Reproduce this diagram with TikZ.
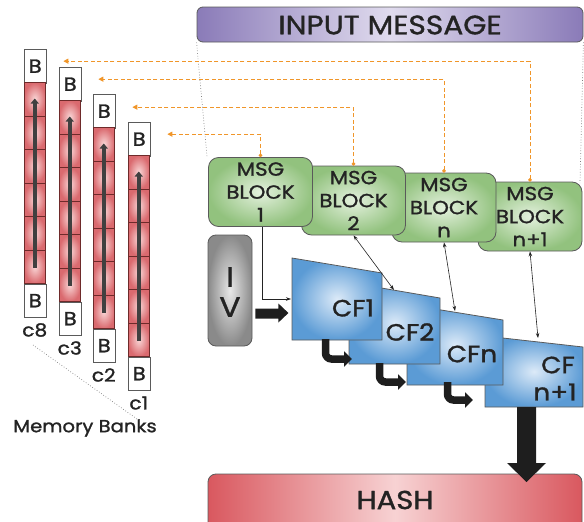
\documentclass[tikz,border=0pt]{standalone}
\usepackage{fontspec}
\setmainfont{Poppins}[FakeBold=1.3,FakeStretch=1.12]
\usetikzlibrary{arrows.meta}
\definecolor{txt}{HTML}{232323}
\definecolor{edgegray}{HTML}{5A5A5A}
\definecolor{orng}{HTML}{F0962A}
\definecolor{purpEdge}{HTML}{8A7BB8}
\definecolor{purpMid}{HTML}{E0DBEE}
\definecolor{greenIn}{HTML}{E4F1DE}
\definecolor{greenOut}{HTML}{92C27E}
\definecolor{blueIn}{HTML}{DCEAF8}
\definecolor{blueOut}{HTML}{5B9BD5}
\definecolor{grayIn}{HTML}{E8E8E8}
\definecolor{grayOut}{HTML}{8A8A8A}
\definecolor{redEdge}{HTML}{D9585F}
\definecolor{redMid}{HTML}{F7D2D3}
\definecolor{cellIn}{HTML}{F9D6D6}
\definecolor{cellOut}{HTML}{DA6A6F}
\definecolor{cellLine}{HTML}{6E2A2A}
\definecolor{arrowDark}{HTML}{1E1E1E}
\tikzset{
  msgblock/.style={draw=edgegray, line width=0.8pt, rounded corners=10pt,
    inner color=greenIn, outer color=greenOut, minimum width=104pt, minimum height=69pt,
    align=center, text=txt, font=\fontsize{19}{23}\selectfont, inner sep=0pt},
  cfshape/.style={draw=edgegray, line width=0.8pt, inner color=blueIn, outer color=blueOut},
  cftext/.style={text=txt, font=\fontsize{23.5}{27}\selectfont, inner sep=0pt},
  bbox/.style={draw=edgegray, line width=0.8pt, fill=white, minimum width=21.5pt,
    minimum height=33.5pt, inner sep=0pt, text=txt, font=\fontsize{19}{20}\selectfont},
  memcell/.style={draw=cellLine, line width=0.7pt, inner color=cellIn, outer color=cellOut},
  memarrow/.style={draw=arrowDark!85, line width=4.5pt, -{Triangle[length=5pt,width=8pt]}},
  lab/.style={text=txt, font=\fontsize{18}{20}\selectfont, inner sep=0pt},
  orangeline/.style={draw=orng, line width=1pt, dash pattern=on 4pt off 2.5pt,
    {Circle[length=3.5pt]}-{Triangle[length=5pt,width=5pt]}},
  thinarrow/.style={draw=txt, line width=0.6pt, {Stealth[length=5pt,width=3.5pt]}-{Stealth[length=5pt,width=3.5pt]}},
  dotline/.style={draw=gray, line width=0.7pt, dotted},
  bentarrow/.style={draw=arrowDark, line width=7.5pt, rounded corners=6pt,
    -{Triangle[length=8pt,width=15pt]}},
  bigfill/.style={fill=arrowDark}
}
\newcommand\memcol[4]{%
  \node[bbox, anchor=north west] (#1t) at (#2,#3) {B};
  \foreach \k in {0,...,5} {
    \path[memcell] (#2,#3+33.5+\k*33.5) rectangle ++(21.5,33.5);
  }
  \node[bbox, anchor=north west] (#1b) at (#2,#3+234.5) {B};
  \node[lab] (#1l) at (#2+10.75,#3+281) {#4};
  \draw[memarrow] (#2+10.75,#3+234.5-16) -- (#2+10.75,#3+33.5+16);
}
\begin{document}
\begin{tikzpicture}[x=1pt,y=-1pt]
\useasboundingbox (0,0) rectangle (584,522);
\clip (0,0) rectangle (584,522);

% Input message
\node[draw=edgegray, line width=0.8pt, rounded corners=6pt, left color=purpEdge, right color=purpEdge,
  middle color=purpMid, minimum width=386pt, minimum height=35pt, inner sep=0pt] (inmsg) at (390,24.5) {};
\node[text=txt, font=\fontsize{26.5}{30}\selectfont, inner sep=0pt] (inmsgtxt) at (390,25) {INPUT MESSAGE};

% dotted guide lines
\coordinate (dl1) at (207,157);
\coordinate (dr1) at (580,183);
\draw[dotline] (inmsg.south west) -- (dl1);
\draw[dotline] (inmsg.south east) -- (dr1);

% memory banks
\memcol{ceight}{24}{49}{c8}
\memcol{cthree}{59}{67}{c3}
\memcol{ctwo}{93}{94}{c2}
\memcol{cone}{128}{122}{c1}
\node[lab, font=\fontsize{17.5}{20}\selectfont] (mb) at (85,428) {Memory Banks};
\coordinate (mbl) at (33,345);
\coordinate (mbr) at (137,419);
\draw[dotline] (mbl) -- (mbr);

% MSG blocks (later ones below)
\node[msgblock] (m4) at (530,216.5) {MSG\\BLOCK\\n+1};
\node[msgblock] (m3) at (444,207.5) {MSG\\BLOCK\\n};
\node[msgblock] (m2) at (353.5,200.5) {MSG\\BLOCK\\2};
\node[msgblock] (m1) at (260.5,192) {MSG\\BLOCK\\1};

% orange connectors
\draw[orangeline] (m1.north) |- ([xshift=17pt,yshift=5pt]conet.east);
\draw[orangeline] (m2.north) |- ([xshift=17pt,yshift=4pt]ctwot.east);
\draw[orangeline] (m3.north) |- ([xshift=17pt,yshift=5pt]cthreet.east);
\draw[orangeline] (m4.north) |- ([xshift=17pt,yshift=5pt]ceightt.east);

% IV
\node[draw=edgegray, line width=0.8pt, rounded corners=8pt, inner color=grayIn, outer color=grayOut,
  minimum width=44pt, minimum height=111pt, inner sep=0pt] (iv) at (230,290.5) {};
\node[text=txt, font=\fontsize{28}{30}\selectfont, inner sep=0pt] (ivI) at (230,277) {I};
\node[text=txt, font=\fontsize{28}{30}\selectfont, inner sep=0pt] (ivV) at (230,307) {V};

% CF shapes (later ones below)
\path[cfshape] (485,336) -- (583,347) -- (583,407) -- (485,407) -- cycle;
\path[cfshape] (407,304.5) -- (503,320) -- (503,385) -- (407,385) -- cycle;
\path[cfshape] (349,282.5) -- (440,298) -- (440,364) -- (349,364) -- cycle;
\path[cfshape] (292,258) -- (382,273) -- (382,340) -- (292,340) -- cycle;
\node[cftext] (cf1) at (353,308) {CF1};
\node[cftext] (cf2) at (410,332) {CF2};
\node[cftext] (cfn) at (472,354) {CFn};
\node[cftext] (cfna) at (558,365) {CF};
\node[cftext] (cfnb) at (555,392) {n+1};

% coordinates on CF shapes
\coordinate (cf1in) at (291,299);
\coordinate (cf2top) at (394,290);
\coordinate (cfntop) at (455,311);
\coordinate (cfn1top) at (538,338);

% thin connectors
\draw[draw=txt, line width=0.6pt, -{Stealth[length=5pt,width=3.5pt]}] ([xshift=1.5pt]m1.south) |- (cf1in);
\draw[thinarrow] (m2.south) -- (cf2top);
\draw[thinarrow] (m3.south) -- (cfntop);
\draw[thinarrow] (m4.south) -- (cfn1top);

% IV arrow
\fill[bigfill] ([yshift=-28pt]iv.east) ++(3pt,0) -- ++(23pt,0) -- ++(0,-4pt) -- ++(10pt,9.5pt) -- ++(-10pt,9.5pt)
  -- ++(0,-5pt) -- ++(-23pt,0) -- cycle;

% bent arrows
\coordinate (ba1s) at (325.5,339);
\coordinate (ba1e) at (352,359);
\coordinate (ba2s) at (379.5,363);
\coordinate (ba2e) at (406,382);
\coordinate (ba3s) at (447.5,382);
\coordinate (ba3e) at (473,400);
\draw[bentarrow] (ba1s) |- (ba1e);
\draw[bentarrow] (ba2s) |- (ba2e);
\draw[bentarrow] (ba3s) |- (ba3e);

% HASH
\path[draw=edgegray, line width=0.8pt, rounded corners=8pt, left color=redEdge, right color=redEdge,
  middle color=redMid] (208,474) rectangle (582,534);
\node[text=txt, font=\fontsize{26}{28}\selectfont, inner sep=0pt] (hash) at (395,500) {HASH};

% big down arrow
\fill[bigfill] (517,407) -- (536,407) -- (536,463) -- (546,463) -- (526.5,482) -- (507,463) -- (517,463) -- cycle;
\end{tikzpicture}
\end{document}
